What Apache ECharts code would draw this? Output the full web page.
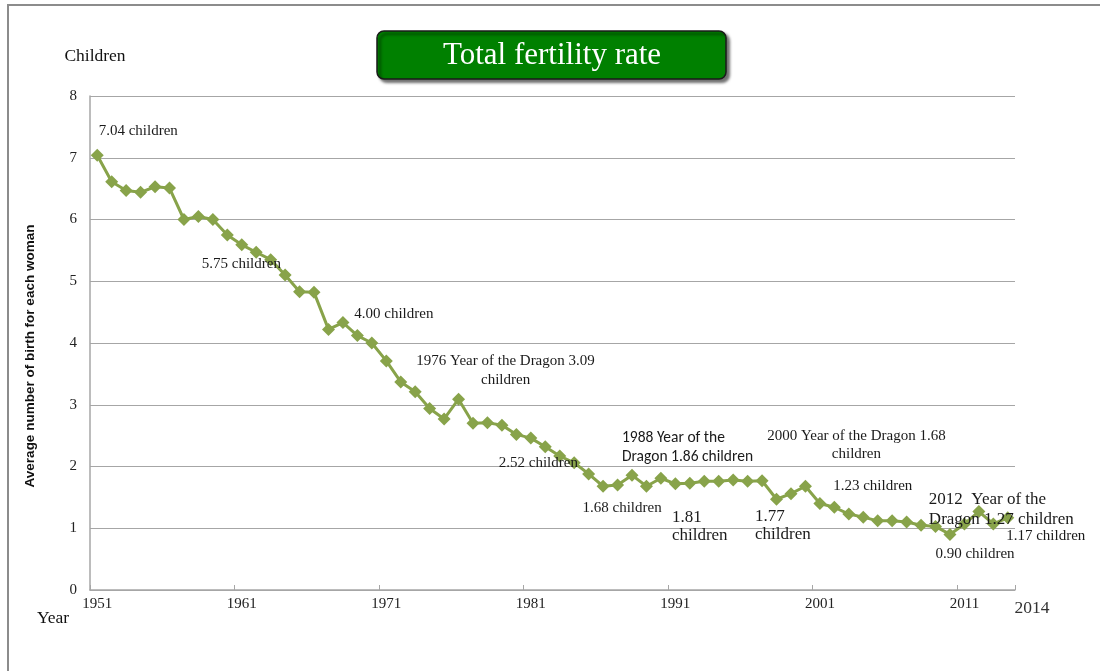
<!DOCTYPE html>
<html>
<head>
<meta charset="utf-8">
<title>Total fertility rate</title>
<script src="https://cdn.jsdelivr.net/npm/echarts@6/dist/echarts.min.js"></script>
<style>
  html, body { margin: 0; padding: 0; background: #fff; }
  #chart { width: 1100px; height: 671px; }
</style>
</head>
<body>
<div id="chart"></div>
<script>
// Years on the category axis
const years = [
  '1951','1952','1953','1954','1955','1956','1957','1958','1959','1960',
  '1961','1962','1963','1964','1965','1966','1967','1968','1969','1970',
  '1971','1972','1973','1974','1975','1976','1977','1978','1979','1980',
  '1981','1982','1983','1984','1985','1986','1987','1988','1989','1990',
  '1991','1992','1993','1994','1995','1996','1997','1998','1999','2000',
  '2001','2002','2003','2004','2005','2006','2007','2008','2009','2010',
  '2011','2012','2013','2014'
];

// Total fertility rate (children per woman)
const fertility = [
  7.04, 6.61, 6.47, 6.44, 6.53, 6.51, 6.00, 6.05, 6.00, 5.75,
  5.59, 5.47, 5.35, 5.10, 4.83, 4.82, 4.22, 4.33, 4.12, 4.00,
  3.71, 3.37, 3.21, 2.94, 2.77, 3.09, 2.70, 2.71, 2.67, 2.52,
  2.46, 2.32, 2.17, 2.06, 1.88, 1.68, 1.70, 1.86, 1.68, 1.81,
  1.72, 1.73, 1.76, 1.76, 1.78, 1.76, 1.77, 1.47, 1.56, 1.68,
  1.40, 1.34, 1.23, 1.18, 1.12, 1.12, 1.10, 1.05, 1.03, 0.90,
  1.07, 1.27, 1.07, 1.17
];

// Value axis ticks
const yTicks = ['0','1','2','3','4','5','6','7','8'];

// Annotated years and their captions ({v} is replaced by the year's value)
const noteYears = ['1951','1960','1970','1976','1980','1986','1988','1990','1997','2000','2003','2010','2012','2014'];
const noteTexts = [
  '{v} children',
  '{v} children',
  '{v} children',
  '1976 Year of the Dragon {v}\nchildren',
  '{v} children',
  '{v} children',
  '1988 Year of the\nDragon {v} children',
  '{v}\nchildren',
  '{v}\nchildren',
  '2000 Year of the Dragon {v}\nchildren',
  '{v} children',
  '{v} children',
  '2012  Year of the\nDragon {v} children',
  '{v} children'
];

// Caption placement (shift from the marker centre) and type style, keyed by year
const SERIF = '"Liberation Serif", "Times New Roman", serif';
const SANS = 'Carlito, "Liberation Sans", Arial, sans-serif';
const MARK = 13;
const noteStyle = {
  '1951': { shift: [41, -24], align: 'center', size: 15, family: SERIF },
  '1960': { shift: [14, 29], align: 'center', size: 15, family: SERIF },
  '1970': { shift: [22, -29], align: 'center', size: 15, family: SERIF },
  '1976': { shift: [47, -29], align: 'center', size: 15, family: SERIF, lh: 19 },
  '1980': { shift: [22, 29], align: 'center', size: 15, family: SERIF },
  '1986': { shift: [19, 22], align: 'center', size: 15, family: SERIF },
  '1988': { shift: [-10, -28], align: 'left', size: 15.5, family: SANS, lh: 19 },
  '1990': { shift: [11, 48], align: 'left', size: 17, family: SERIF, lh: 18 },
  '1997': { shift: [-7, 45], align: 'left', size: 17, family: SERIF, lh: 18 },
  '2000': { shift: [51, -41], align: 'center', size: 15, family: SERIF, lh: 18 },
  '2003': { shift: [24, -28], align: 'center', size: 15, family: SERIF },
  '2010': { shift: [25, 20], align: 'center', size: 15, family: SERIF },
  '2012': { shift: [-50, -2], align: 'left', size: 17, family: SERIF, lh: 20 },
  '2014': { shift: [38, 18], align: 'center', size: 15, family: SERIF }
};

const seriesData = fertility.map(function (v, i) {
  const k = noteYears.indexOf(years[i]);
  if (k < 0) return v;
  const st = noteStyle[years[i]];
  return {
    value: v,
    label: {
      show: true,
      position: [MARK / 2 + st.shift[0], MARK / 2 + st.shift[1]],
      formatter: noteTexts[k].replace('{v}', v.toFixed(2)),
      align: st.align,
      verticalAlign: 'middle',
      fontFamily: st.family,
      fontSize: st.size,
      lineHeight: st.lh || st.size + 4,
      color: '#1a1a1a'
    }
  };
});

const chart = echarts.init(document.getElementById('chart'), null, { renderer: 'canvas' });

chart.setOption({
  animation: false,
  backgroundColor: '#ffffff',
  grid: { left: 90, right: 85, top: 96, bottom: 81 },
  xAxis: {
    type: 'category',
    data: years,
    boundaryGap: true,
    axisLine: { show: true, lineStyle: { color: '#a6a6a6', width: 1.5 } },
    axisTick: { show: true, inside: true, length: 5, interval: 9, lineStyle: { color: '#a6a6a6' } },
    axisLabel: {
      interval: 9,
      margin: 7,
      color: '#222',
      fontFamily: SERIF,
      fontSize: 15
    },
    splitLine: { show: false }
  },
  yAxis: {
    type: 'value',
    min: 0,
    max: 8,
    interval: 1,
    name: 'Children',
    nameLocation: 'end',
    nameGap: 31,
    nameTextStyle: { fontFamily: SERIF, fontSize: 17.5, color: '#111', padding: [0, 0, 0, 10] },
    axisLine: { show: true, lineStyle: { color: '#a6a6a6', width: 1.5 } },
    axisTick: { show: false },
    axisLabel: {
      margin: 13,
      color: '#222',
      fontFamily: SERIF,
      fontSize: 15,
      formatter: function (v) { return yTicks[v]; }
    },
    splitLine: { show: true, lineStyle: { color: '#a6a6a6', width: 1.2 } }
  },
  series: [{
    type: 'line',
    data: seriesData,
    symbol: 'diamond',
    symbolSize: MARK,
    showSymbol: true,
    showAllSymbol: true,
    lineStyle: { color: '#88a34a', width: 3 },
    itemStyle: { color: '#88a34a' },
    label: { show: false },
    labelLayout: { hideOverlap: false },
    z: 3
  }],
  graphic: [
    // outer frame
    {
      type: 'rect',
      silent: true,
      shape: { x: 8, y: 5, width: 1110, height: 690 },
      style: { fill: 'none', stroke: '#8c8c8c', lineWidth: 2 },
      z: 0
    },
    // title box
    {
      type: 'rect',
      shape: { x: 377, y: 31, width: 349, height: 48, r: 7 },
      style: {
        fill: '#008000',
        stroke: '#1a1a1a',
        lineWidth: 1.5,
        shadowBlur: 3,
        shadowOffsetX: 3,
        shadowOffsetY: 3,
        shadowColor: 'rgba(0,0,0,0.55)'
      },
      z: 10
    },
    {
      type: 'text',
      x: 552,
      y: 56,
      style: {
        text: 'Total fertility rate',
        fill: '#ffffff',
        font: '31px "Liberation Serif", "Times New Roman", serif',
        textAlign: 'center',
        textVerticalAlign: 'middle'
      },
      z: 11
    },
    // rotated value-axis title
    {
      type: 'text',
      x: 30,
      y: 356,
      rotation: Math.PI / 2,
      style: {
        text: 'Average number of birth for each woman',
        fill: '#111',
        font: 'bold 13.5px "Liberation Sans", Arial, sans-serif',
        textAlign: 'center',
        textVerticalAlign: 'middle'
      },
      z: 10
    },
    // category-axis caption and final year
    {
      type: 'text',
      x: 53,
      y: 618,
      style: {
        text: 'Year',
        fill: '#111',
        font: '17.5px "Liberation Serif", "Times New Roman", serif',
        textAlign: 'center',
        textVerticalAlign: 'middle'
      },
      z: 10
    },
    {
      type: 'text',
      x: 1032,
      y: 608,
      style: {
        text: years[years.length - 1],
        fill: '#333',
        font: '17.5px "Liberation Serif", "Times New Roman", serif',
        textAlign: 'center',
        textVerticalAlign: 'middle'
      },
      z: 10
    }
  ]
});
</script>
</body>
</html>
